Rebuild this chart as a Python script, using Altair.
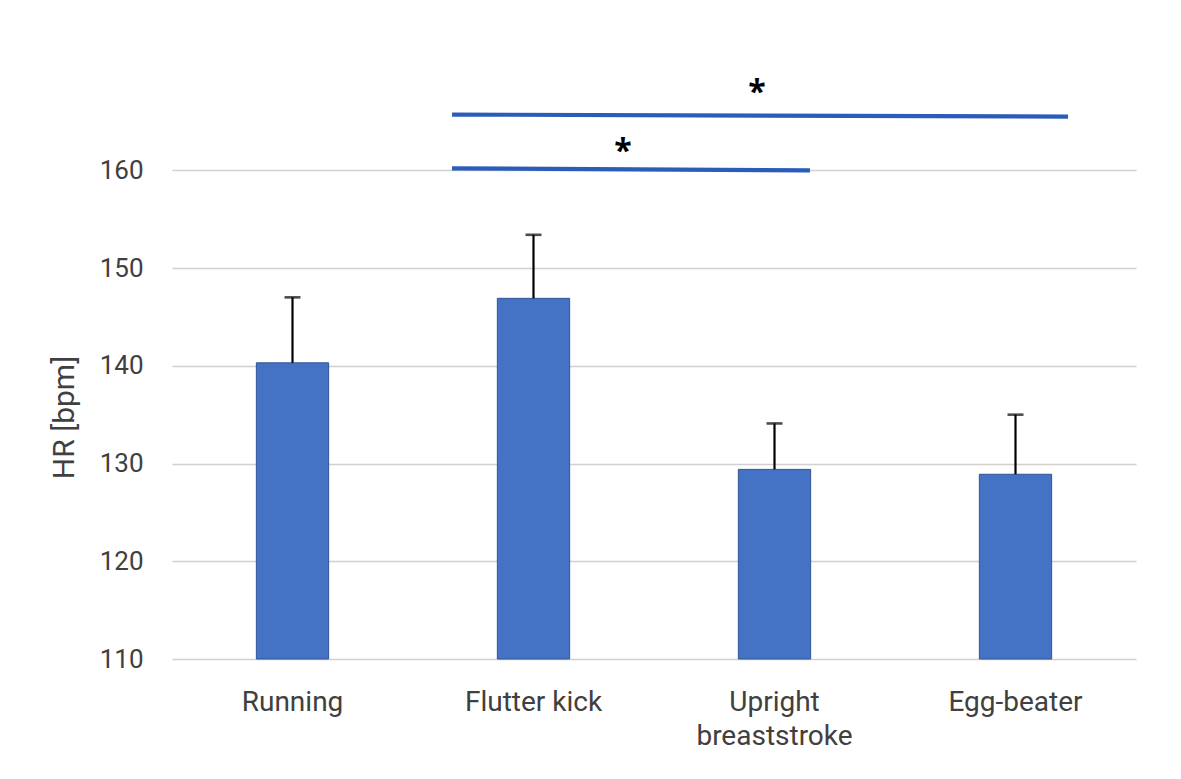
import altair as alt
import pandas as pd

# ---- data ----
categories = ["Running", "Flutter kick", "Upright breaststroke", "Egg-beater"]
mean_hr = [140.3, 146.9, 129.4, 128.9]
upper_hr = [147.0, 153.4, 134.1, 135.0]
y_ticks = [110, 120, 130, 140, 150, 160]

# significance brackets: (start category, end category, y at start, y at end)
sig_start = ["Flutter kick", "Flutter kick"]
sig_end = ["Egg-beater", "Upright breaststroke"]
sig_y_start = [165.7, 160.2]
sig_y_end = [165.5, 160.0]
star_cat = ["Upright breaststroke", "Flutter kick"]
star_y = [168.5, 162.5]

FONT = "Roboto"
TXT = "#404040"
BLUE = "#4472C4"
LINE_BLUE = "#2A5CBA"
YTITLE = "HR [bpm]"

bars_df = pd.DataFrame({"cat": categories, "mean": mean_hr, "upper": upper_hr})

xscale = alt.Scale(domain=categories, paddingInner=0, paddingOuter=0)
yscale = alt.Scale(domain=[110, 172], nice=False, zero=False)

x_axis = alt.Axis(
    domain=False, ticks=False, grid=False,
    labelFont=FONT, labelFontSize=28, labelColor=TXT, labelPadding=29,
    labelAngle=0, labelLineHeight=34,
    labelExpr="datum.label == 'Upright breaststroke' ? ['Upright', 'breaststroke'] : datum.label",
)
y_axis = alt.Axis(
    values=y_ticks, domain=False, ticks=False, grid=True,
    gridColor="#D0D0D0", gridWidth=1.6,
    labelFont=FONT, labelFontSize=26, labelColor=TXT, labelPadding=29,
    titleFont=FONT, titleFontSize=30, titleFontWeight="normal",
    titleColor=TXT, titleX=-108, titleY=364, titleAlign="center",
    titleBaseline="middle", titleAngle=270,
)

base = alt.Chart(bars_df)

bars = base.mark_bar(
    width=alt.RelativeBandSize(0.3), color=BLUE, stroke="#2F5597", strokeWidth=1
).encode(
    x=alt.X("cat:N", sort=categories, scale=xscale, axis=x_axis, title=None),
    y=alt.Y("mean:Q", scale=yscale, axis=y_axis, title=YTITLE),
    y2=alt.datum(110),
)

stems = base.mark_rule(color="black", strokeWidth=2.2).encode(
    x=alt.X("cat:N", sort=categories, scale=xscale, title=None),
    y=alt.Y("mean:Q", scale=yscale, title=YTITLE),
    y2="upper:Q",
)

caps = base.mark_tick(color="black", thickness=2.6, size=16).encode(
    x=alt.X("cat:N", sort=categories, scale=xscale, title=None),
    y=alt.Y("upper:Q", scale=yscale, title=YTITLE),
)

layers = [bars, stems, caps]

sig_end_pos = [0.718, 0.647]
star_pos = [0.427, 0.871]
for i in range(len(sig_start)):
    ldf = pd.DataFrame({
        "s": [sig_start[i]], "e": [sig_end[i]],
        "ys": [sig_y_start[i]], "ye": [sig_y_end[i]],
    })
    line = alt.Chart(ldf).mark_rule(color=LINE_BLUE, strokeWidth=4.2).encode(
        x=alt.X("s:N", scale=xscale, bandPosition=0.162, title=None),
        x2=alt.X2("e", bandPosition=sig_end_pos[i]),
        y=alt.Y("ys:Q", scale=yscale, title=YTITLE),
        y2="ye:Q",
    )
    sdf = pd.DataFrame({"c": [star_cat[i]], "y": [star_y[i]]})
    star = alt.Chart(sdf).mark_text(
        text="*", font="Open Sans", fontSize=32, fontWeight="bold", color="black",
        baseline="middle", align="center", dy=6,
    ).encode(
        x=alt.X("c:N", scale=xscale, bandPosition=star_pos[i], title=None),
        y=alt.Y("y:Q", scale=yscale, title=YTITLE),
    )
    layers += [line, star]

chart = alt.layer(*layers).properties(
    width=964, height=606,
    autosize=alt.AutoSizeParams(type="none"),
    padding={"left": 164, "top": 45, "right": 29, "bottom": 112},
    background="white",
).configure_view(stroke=None)

chart.save("out.html", embed_options={"renderer": "svg", "actions": False})
